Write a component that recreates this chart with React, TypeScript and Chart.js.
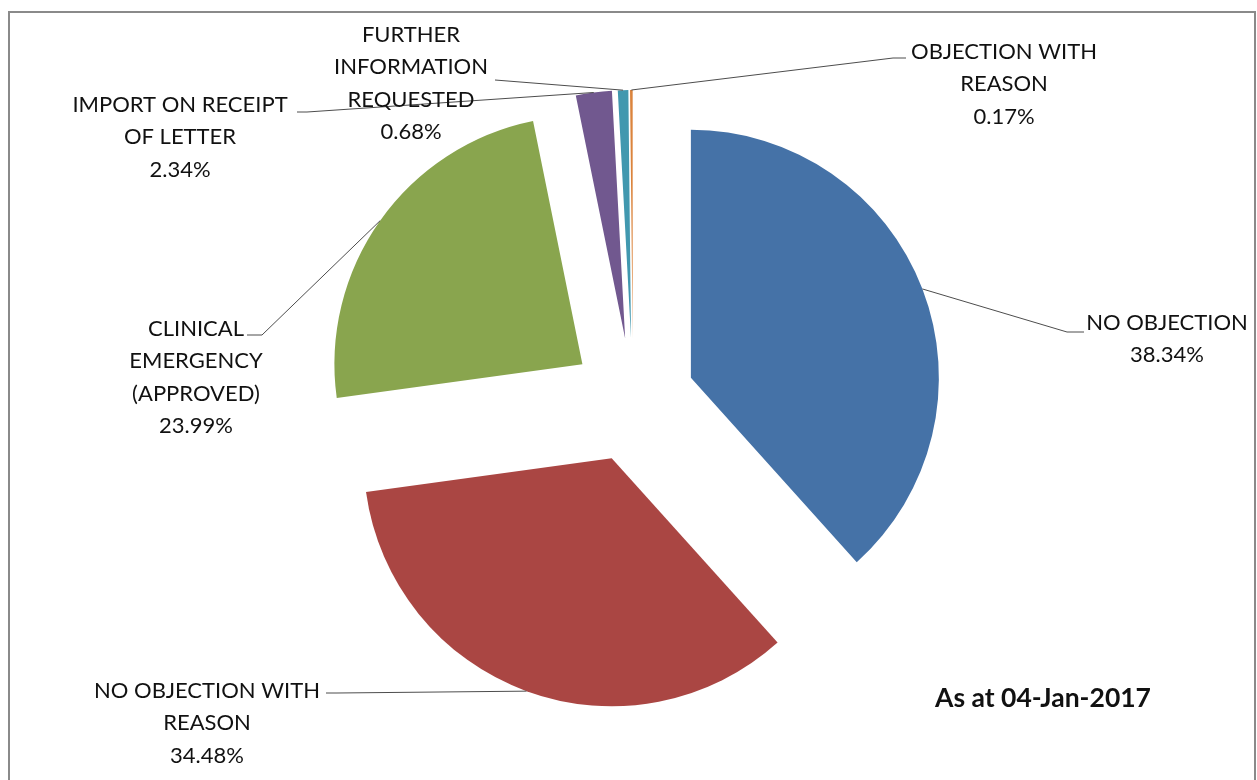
import React, { useEffect, useRef } from "react";
import { Chart, registerables } from "chart.js";

Chart.register(...registerables);

const categories = [
  "NO OBJECTION",
  "NO OBJECTION WITH REASON",
  "CLINICAL EMERGENCY (APPROVED)",
  "IMPORT ON RECEIPT OF LETTER",
  "FURTHER INFORMATION REQUESTED",
  "OBJECTION WITH REASON",
];
const values = [38.34, 34.48, 23.99, 2.34, 0.68, 0.17];
const colors = ["#4572A7", "#AA4643", "#89A54E", "#71588F", "#4198AF", "#DB843D"];
const labelLines = [
  ["NO OBJECTION"],
  ["NO OBJECTION WITH", "REASON"],
  ["CLINICAL", "EMERGENCY", "(APPROVED)"],
  ["IMPORT ON RECEIPT", "OF LETTER"],
  ["FURTHER", "INFORMATION", "REQUESTED"],
  ["OBJECTION WITH", "REASON"],
];
const stampText = "As at 04-Jan-2017";

// label layout (text block centre x, first line middle y, leader elbow and end)
const labelLayout = [
  { x: 1167, y: 323, elbow: [1067, 332], end: [1084, 332] },
  { x: 207, y: 691, elbow: [337, 693], end: [326, 693] },
  { x: 196, y: 329, elbow: [262, 335], end: [247, 335] },
  { x: 180, y: 105, elbow: [307, 112], end: [297, 112] },
  { x: 411, y: 35, elbow: [495, 80], end: [495, 80] },
  { x: 1004, y: 52, elbow: [893, 58], end: [906, 58] },
];

const EXPLODE = 0.25;
const FONT = "Lato, 'Open Sans', sans-serif";

const explodePlugin = {
  id: "explode",
  beforeDatasetDraw(chart: any, args: any) {
    const ctx = chart.ctx;
    args.meta.data.forEach((arc: any) => {
      const mid = (arc.startAngle + arc.endAngle) / 2;
      const d = arc.outerRadius * EXPLODE;
      ctx.save();
      ctx.translate(Math.cos(mid) * d, Math.sin(mid) * d);
      arc.draw(ctx);
      ctx.restore();
    });
    return false;
  },
};

const framePlugin = {
  id: "frame",
  beforeDraw(chart: any) {
    const ctx = chart.ctx;
    ctx.save();
    ctx.fillStyle = "#ffffff";
    ctx.fillRect(0, 0, chart.width, chart.height);
    ctx.strokeStyle = "#8a8a8a";
    ctx.lineWidth = 2;
    ctx.strokeRect(9, 12, chart.width - 1 - 9 - 1, chart.height + 40);
    ctx.restore();
  },
};

const labelPlugin = {
  id: "pieLabels",
  afterDraw(chart: any) {
    const ctx = chart.ctx;
    const meta = chart.getDatasetMeta(0);
    ctx.save();
    meta.data.forEach((arc: any, i: number) => {
      const mid = (arc.startAngle + arc.endAngle) / 2;
      const r = arc.outerRadius * (1 + EXPLODE);
      const ax = arc.x + Math.cos(mid) * r;
      const ay = arc.y + Math.sin(mid) * r;
      const lay = labelLayout[i];
      ctx.strokeStyle = "#4d4d4d";
      ctx.lineWidth = 1;
      ctx.beginPath();
      ctx.moveTo(ax, ay);
      ctx.lineTo(lay.elbow[0], lay.elbow[1]);
      ctx.lineTo(lay.end[0], lay.end[1]);
      ctx.stroke();

      const lines = [...labelLines[i], values[i].toFixed(2) + "%"];
      ctx.fillStyle = "#111111";
      ctx.font = `22px ${FONT}`;
      ctx.textAlign = "center";
      ctx.textBaseline = "middle";
      lines.forEach((t, k) => {
        ctx.fillText(t, lay.x, lay.y + k * 32.3);
      });
    });
    ctx.font = `bold 26.5px ${FONT}`;
    ctx.fillStyle = "#111111";
    ctx.textAlign = "center";
    ctx.textBaseline = "middle";
    ctx.fillText(stampText, 1043, 698);
    ctx.restore();
  },
};

export default function App() {
  const ref = useRef<HTMLCanvasElement | null>(null);
  useEffect(() => {
    if (!ref.current) return;
    const chart = new Chart(ref.current, {
      type: "pie",
      data: {
        labels: categories,
        datasets: [
          {
            data: values,
            backgroundColor: colors,
            borderWidth: 0,
          },
        ],
      },
      options: {
        responsive: false,
        animation: false,
        radius: 248,
        layout: { padding: { left: 9, right: 0, top: 20, bottom: 0 } },
        plugins: {
          legend: { display: false },
          tooltip: { enabled: false },
        },
      } as any,
      plugins: [framePlugin, explodePlugin, labelPlugin],
    });
    return () => chart.destroy();
  }, []);
  return (
    <div style={{ position: "absolute", left: 0, top: 0, width: 1257, height: 780 }}>
      <canvas ref={ref} width={1257} height={780} style={{ width: 1257, height: 780 }} />
    </div>
  );
}
